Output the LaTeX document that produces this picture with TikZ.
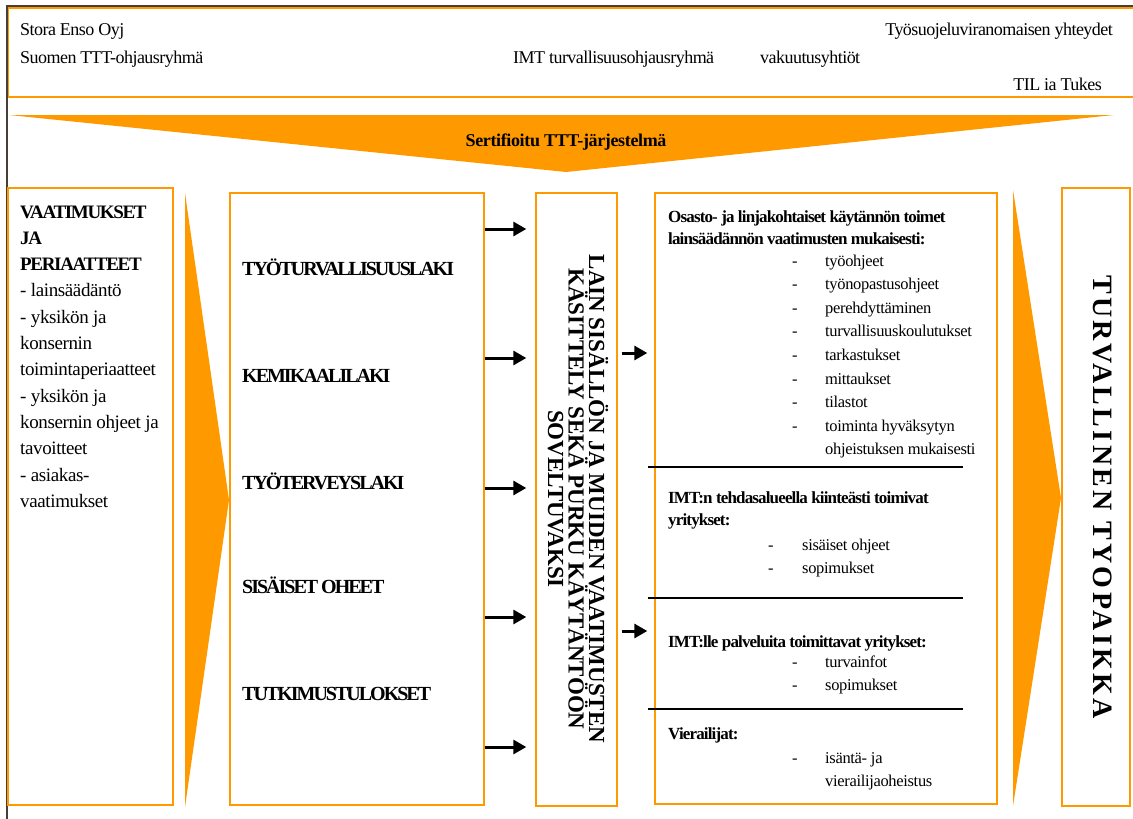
\documentclass[tikz,border=0pt]{standalone}
\usepackage{fontspec}
\setmainfont{Liberation Serif}
\usetikzlibrary{arrows.meta}
\definecolor{tttorange}{RGB}{255,153,0}
\definecolor{framegray}{RGB}{70,62,55}
\newcommand\hdl[1]{{\bfseries\addfontfeature{LetterSpace=-7}#1}}
\begin{document}
\begin{tikzpicture}[x=1pt,y=-1pt,
    box/.style={draw=tttorange, line width=1.4pt, inner sep=0pt},
    wedge/.style={fill=tttorange},
    arr/.style={line width=3pt, -{Triangle[length=13pt,width=14pt]}},
    toptxt/.style={anchor=base west, inner sep=0pt, font=\fontsize{18}{22}\selectfont\addfontfeature{LetterSpace=-3}},
    lawtxt/.style={anchor=base west, inner sep=0pt, font=\bfseries\fontsize{20}{24}\selectfont\addfontfeature{LetterSpace=-10}},
    head/.style={anchor=base west, inner sep=0pt, font=\bfseries\fontsize{17}{22}\selectfont\addfontfeature{LetterSpace=-5}},
    items/.style={anchor=base west, inner sep=0pt, font=\fontsize{16.5}{23.6}\selectfont\addfontfeature{LetterSpace=-2}},
    sep/.style={line width=1.2pt}
  ]
  \useasboundingbox (0,0) rectangle (1133,819);
  % frame and organisations
  \draw[line width=1.8pt, framegray] (7,819) -- (7,6) -- (1133,6);
  \draw[tttorange, line width=1.4pt] (1133,8) -- (8.5,8) -- (8.5,97) -- (1133,97);
  \node[toptxt] (stora) at (20,35) {Stora Enso Oyj};
  \node[toptxt] (suomen) at (20,63) {Suomen TTT-ohjausryhmä};
  \node[toptxt] (imt) at (513,63) {IMT turvallisuusohjausryhmä};
  \node[toptxt] (vakuutus) at (760,63) {vakuutusyhtiöt};
  \node[toptxt, anchor=base east] (tsuojelu) at (1113,35) {Työsuojeluviranomaisen yhteydet};
  \node[toptxt, anchor=base east] (til) at (1102,90) {TIL ia Tukes};
  % certified system
  \fill[tttorange] (9,115) -- (1114,115) -- (566,172) -- cycle;
  \node[anchor=base, inner sep=0pt, font=\bfseries\fontsize{18}{22}\selectfont\addfontfeature{LetterSpace=-2}] (cert) at (566,146) {Sertifioitu TTT-järjestelmä};

  % boxes
  \node[box, minimum width=165pt, minimum height=617pt] (req) at (90.5,496.5) {};
  \node[box, minimum width=254pt, minimum height=612pt] (laws) at (357,499) {};
  \node[box, minimum width=81pt, minimum height=613pt] (apply) at (576.5,499.5) {};
  \node[box, minimum width=342pt, minimum height=611pt] (acts) at (826,498.5) {};
  \node[box, minimum width=68pt, minimum height=618pt] (safe) at (1096,497) {};
  \fill[wedge] (185,193) -- (229,500) -- (185,807) -- cycle;
  \fill[wedge] (1013,190) -- (1061,498) -- (1013,806) -- cycle;

  \node[anchor=base west, inner sep=0pt, font=\fontsize{19}{26.3}\selectfont\addfontfeature{LetterSpace=-2}] (reqtxt) at (20,218)
    {\begin{tabular}[t]{@{}l@{}}\hdl{VAATIMUKSET}\\\hdl{JA}\\\hdl{PERIAATTEET}\\- lainsäädäntö\\- yksikön ja\\konsernin\\toimintaperiaatteet\\- yksikön ja\\konsernin ohjeet ja\\tavoitteet\\- asiakas-\\vaatimukset\end{tabular}};

  \node[lawtxt] (law1) at (242,275) {TYÖTURVALLISUUSLAKI};
  \node[lawtxt] (law2) at (242,382) {KEMIKAALILAKI};
  \node[lawtxt] (law3) at (242,489) {TYÖTERVEYSLAKI};
  \node[lawtxt] (law4) at (242,593) {SISÄISET OHEET};
  \node[lawtxt] (law5) at (242,700) {TUTKIMUSTULOKSET};

  \node[rotate=-90, align=center, inner sep=0pt, font=\bfseries\fontsize{23}{20.5}\selectfont] (applytxt) at (578,499)
    {LAIN SISÄLLÖN JA MUIDEN VAATIMUSTEN\\KÄSITTELY SEKÄ PURKU KÄYTÄNTÖÖN\\SOVELTUVAKSI};
  \node[rotate=-90, inner sep=0pt, font=\bfseries\fontsize{28}{30}\selectfont\addfontfeature{LetterSpace=12}] (safetxt) at (1103,497)
    {TURVALLINEN TYOPAIKKA};

  % arrows
  \foreach \y in {229,358,488,617,747}
    \draw[arr, shorten >=9pt] (laws.east |- 0,\y) -- (apply.west |- 0,\y);
  \foreach \y in {353,631}
    \draw[arr, shorten <=4pt, shorten >=7pt] (apply.east |- 0,\y) -- (acts.west |- 0,\y);

  % practical actions
  \node[head] (h1) at (668,222) {\begin{tabular}[t]{@{}l@{}}Osasto- ja linjakohtaiset käytännön toimet\\lainsäädännön vaatimusten mukaisesti:\end{tabular}};
  \node[items] (l1) at (792,266) {\begin{tabular}[t]{@{}p{33pt}@{}l@{}}-&työohjeet\\-&työnopastusohjeet\\-&perehdyttäminen\\-&turvallisuuskoulutukset\\-&tarkastukset\\-&mittaukset\\-&tilastot\\-&toiminta hyväksytyn\\&ohjeistuksen mukaisesti\end{tabular}};
  \draw[sep] (648,467) -- (963,467);
  \node[head] (h2) at (668,503) {\begin{tabular}[t]{@{}l@{}}IMT:n tehdasalueella kiinteästi toimivat\\yritykset:\end{tabular}};
  \node[items] (l2) at (768,550) {\begin{tabular}[t]{@{}p{34pt}@{}l@{}}-&sisäiset ohjeet\\-&sopimukset\end{tabular}};
  \draw[sep] (648,598) -- (963,598);
  \node[head] (h3) at (668,647) {IMT:lle palveluita toimittavat yritykset:};
  \node[items] (l3) at (792,667) {\begin{tabular}[t]{@{}p{33pt}@{}l@{}}-&turvainfot\\-&sopimukset\end{tabular}};
  \draw[sep] (648,709) -- (963,709);
  \node[head] (h4) at (668,739) {Vierailijat:};
  \node[items] (l4) at (792,763) {\begin{tabular}[t]{@{}p{33pt}@{}l@{}}-&isäntä- ja\\&vierailijaoheistus\end{tabular}};
\end{tikzpicture}
\end{document}
